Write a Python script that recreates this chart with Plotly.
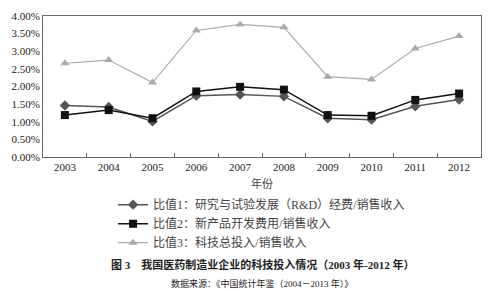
import plotly.graph_objects as go

years = ["2003", "2004", "2005", "2006", "2007", "2008", "2009", "2010", "2011", "2012"]
ratio1 = [1.46, 1.42, 1.01, 1.74, 1.77, 1.72, 1.10, 1.06, 1.44, 1.63]
ratio2 = [1.19, 1.33, 1.10, 1.86, 1.99, 1.91, 1.19, 1.17, 1.62, 1.80]
ratio3 = [2.66, 2.75, 2.11, 3.59, 3.76, 3.68, 2.28, 2.20, 3.08, 3.43]
names = ["比值1：研究与试验发展（R&D）经费/销售收入",
         "比值2：新产品开发费用/销售收入",
         "比值3：科技总投入/销售收入"]
yticks = [0, 0.5, 1.0, 1.5, 2.0, 2.5, 3.0, 3.5, 4.0]

FONT = "Liberation Serif, Noto Sans CJK SC, serif"

fig = go.Figure()
fig.add_trace(go.Scatter(x=years, y=ratio1, name=names[0], mode="lines+markers",
                         line=dict(color="#555555", width=1.5),
                         marker=dict(symbol="diamond", size=8, color="#555555")))
fig.add_trace(go.Scatter(x=years, y=ratio2, name=names[1], mode="lines+markers",
                         line=dict(color="#111111", width=1.5),
                         marker=dict(symbol="square", size=8, color="#111111")))
fig.add_trace(go.Scatter(x=years, y=ratio3, name=names[2], mode="lines+markers",
                         line=dict(color="#aaaaaa", width=1.2),
                         marker=dict(symbol="triangle-up", size=8, color="#aaaaaa")))

fig.update_layout(
    width=492, height=291,
    margin=dict(l=43, r=10, t=13, b=134),
    paper_bgcolor="white", plot_bgcolor="white",
    font=dict(family=FONT, size=11, color="#333333"),
    showlegend=True,
    legend=dict(x=0.16, y=-0.235, xanchor="left", yanchor="top",
                orientation="v", font=dict(size=12, color="#444444"),
                bgcolor="rgba(0,0,0,0)", tracegroupgap=0, itemwidth=30),
    xaxis=dict(type="category", range=[-0.5, 9.5], showline=True, linecolor="#666666",
               mirror=True, ticks="inside", tickson="boundaries", ticklen=4,
               tickcolor="#666666", showgrid=False, tickfont=dict(size=11, color="#222222"),
               title=dict(text="年份", font=dict(size=11, color="#444444"), standoff=8)),
    yaxis=dict(range=[0, 4.0], tickvals=yticks,
               ticktext=[f"{v:.2f}%" for v in yticks],
               showline=True, linecolor="#666666", mirror=True, ticks="",
               showgrid=False, zeroline=False, tickfont=dict(size=11, color="#222222")),
)

fig.add_annotation(text="<b>图 3　我国医药制造业企业的科技投入情况（2003 年-2012 年）</b>",
                   xref="paper", yref="paper", x=0.5, y=(157 - 267) / 144,
                   xanchor="center", yanchor="middle", showarrow=False,
                   font=dict(size=11, color="#222222"))
fig.add_annotation(text="数据来源：《中国统计年鉴（2004－2013 年）》",
                   xref="paper", yref="paper", x=0.5, y=(157 - 286) / 144,
                   xanchor="center", yanchor="middle", showarrow=False,
                   font=dict(size=9, color="#222222"))

fig.write_html("out.html")
